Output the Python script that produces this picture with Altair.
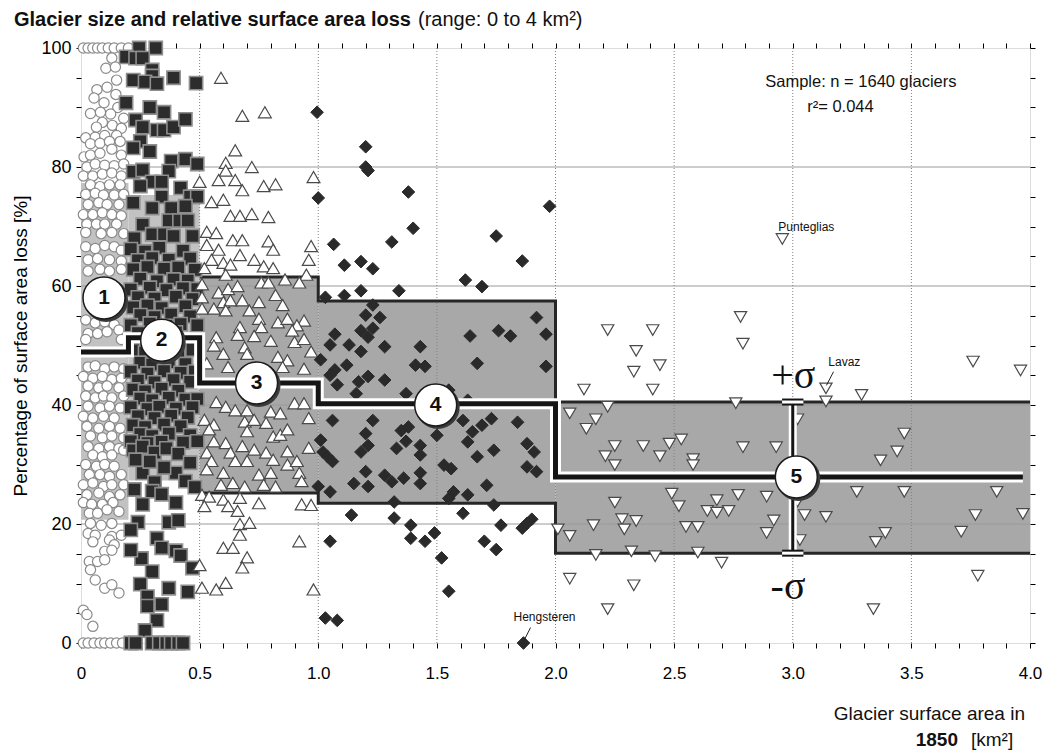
import json
import altair as alt
import pandas as pd

# ---------------- data ----------------
# size class 1 (circles)
circles_xy = [
    (0.01,100),(0.03,100),(0.05,100),(0.07,100),(0.09,100),(0.115,100),(0.14,100),(0.17,100),(0.2,100),
    (0.13,98.3),(0.105,96.6),(0.145,96.8),(0.15,94.6),(0.067,93.0),(0.11,93.4),(0.147,92.2),(0.055,91.6),
    (0.097,90.8),(0.155,90.0),(0.04,89.0),(0.082,89.2),(0.125,88.9),(0.18,88.2),(0.09,87.5),(0.065,86.7),
    (0.132,87.0),(0.17,86.5),(0.02,84.9),(0.06,85.0),(0.1,85.3),(0.15,85.3),(0.04,83.9),(0.08,84.0),
    (0.12,84.3),(0.165,84.3),(0.013,81.7),(0.04,82.0),(0.08,82.3),(0.13,83.0),(0.17,82.0),(0.025,80.0),
    (0.06,80.5),(0.1,80.3),(0.14,80.2),(0.18,80.5),(0.01,78.5),(0.05,78.5),(0.09,78.8),(0.13,79.0),
    (0.17,78.5),(0.04,77.0),(0.08,76.7),(0.12,77.0),(0.165,77.0),(0.02,75.4),(0.06,75.6),(0.095,75.3),
    (0.14,75.3),(0.18,75.4),(0.03,73.7),(0.075,74.0),(0.11,73.7),(0.16,73.7),(0.01,72.0),(0.05,72.0),
    (0.09,72.3),(0.13,72.0),(0.17,71.8),(0.025,70.4),(0.065,70.4),(0.1,70.4),(0.15,70.4),(0.02,69.0),
    (0.085,68.8),(0.13,69.0),(0.18,68.8),(0.02,66.6),(0.06,66.3),(0.1,66.8),(0.14,66.6),(0.17,66.0),
    (0.03,64.4),(0.07,64.6),(0.12,64.4),(0.17,64.2),(0.03,62.5),(0.08,62.8),(0.12,62.5),(0.17,62.8),
    (0.16,59.5),(0.17,56.5),(0.02,54.3),(0.06,53.8),(0.1,54.0),(0.14,53.5),(0.03,52.0),(0.07,52.0),
    (0.11,52.3),(0.16,52.6),(0.02,51.0),(0.17,51.0),(0.03,46.4),(0.06,46.6),(0.1,46.1),(0.14,46.4),
    (0.18,46.1),(0.01,44.8),(0.05,44.5),(0.09,44.8),(0.13,44.3),(0.17,44.5),(0.03,43.2),(0.075,42.9),
    (0.11,43.2),(0.16,42.9),(0.02,41.5),(0.06,41.2),(0.095,41.5),(0.13,41.2),(0.18,41.5),(0.03,39.8),
    (0.08,39.5),(0.12,39.8),(0.165,39.5),(0.01,38.1),(0.05,37.8),(0.095,38.1),(0.14,37.8),(0.025,36.4),
    (0.075,36.1),(0.12,36.4),(0.165,36.1),(0.04,34.8),(0.09,34.5),(0.13,34.8),(0.18,34.5),(0.03,33.0),
    (0.075,32.7),(0.12,33.0),(0.16,32.7),(0.05,31.6),(0.09,31.3),(0.13,31.6),(0.18,32.4),(0.02,30.0),
    (0.065,29.7),(0.1,30.0),(0.14,29.7),(0.035,28.3),(0.08,28.3),(0.12,28.0),(0.17,28.3),(0.01,26.6),
    (0.05,26.9),(0.095,26.3),(0.13,26.6),(0.18,26.6),(0.025,24.9),(0.075,25.2),(0.12,24.6),(0.165,24.9),
    (0.01,23.6),(0.045,23.3),(0.09,23.3),(0.135,23.6),(0.035,21.8),(0.07,21.8),(0.11,22.4),(0.16,22.1),
    (0.04,20.1),(0.085,19.8),(0.13,20.1),(0.03,18.4),(0.06,18.1),(0.13,17.9),(0.17,18.1),(0.05,17.0),
    (0.12,17.3),(0.14,16.5),(0.1,15.4),(0.13,15.6),(0.035,13.7),(0.07,13.7),(0.1,14.0),(0.04,12.3),
    (0.06,10.6),(0.1,9.2),(0.13,9.8),(0.16,8.4),(0.01,5.5),(0.025,4.8),(0.05,2.8),
    (0.01,0),(0.03,0),(0.055,0),(0.08,0),(0.1,0),(0.125,0),(0.15,0),(0.175,0),
]

# size class 2 (filled squares)
squares_xy = [
    (0.245,100),(0.315,100),(0.19,98.5),(0.23,98.3),(0.26,98.3),(0.3,96.3),(0.3,95.3),(0.39,95.0),
    (0.485,94.1),(0.22,94.6),(0.27,94.3),(0.32,94.0),(0.19,90.8),(0.29,90.0),(0.35,89.2),(0.23,87.9),
    (0.26,86.7),(0.32,86.2),(0.35,86.2),(0.39,86.7),(0.44,88.0),(0.25,84.3),(0.29,82.6),(0.22,83.2),
    (0.38,81.0),(0.44,81.3),(0.49,80.5),(0.22,79.2),(0.26,79.5),(0.37,79.3),(0.3,77.5),(0.34,77.5),
    (0.42,76.5),(0.25,76.8),(0.46,75.0),(0.49,75.0),(0.34,75.0),(0.3,73.1),(0.38,73.1),(0.44,73.4),
    (0.22,74.0),(0.37,71.0),(0.415,71.0),(0.45,71.0),(0.26,70.3),(0.3,68.7),(0.35,68.7),(0.39,68.4),
    (0.47,68.4),(0.225,68.0),
    (0.21,66.2),(0.27,65.8),(0.33,66.4),(0.43,65.9),(0.24,64.3),(0.3,64.7),(0.37,64.4),(0.46,64.6),
    (0.22,62.8),(0.28,63.2),(0.35,62.9),(0.41,63.1),(0.48,62.7),(0.25,61.2),(0.32,60.8),(0.39,61.1),
    (0.45,60.9),(0.21,59.4),(0.29,59.7),(0.36,59.3),(0.43,59.6),(0.49,59.5),(0.24,58.1),(0.31,57.9),
    (0.4,58.2),(0.47,57.8),(0.22,56.4),(0.28,56.7),(0.34,56.3),(0.44,56.6),(0.25,55.1),(0.31,54.8),
    (0.38,55.2),(0.46,54.9),(0.21,53.4),(0.29,53.7),(0.36,53.3),(0.42,53.6),(0.49,53.4),(0.24,52.1),
    (0.32,51.8),(0.4,52.2),(0.22,49.2),(0.27,48.8),(0.33,49.1),(0.41,48.9),(0.47,49.3),(0.25,47.1),
    (0.3,46.8),(0.37,47.2),(0.44,46.9),(0.21,45.6),(0.28,45.3),(0.35,45.7),(0.42,45.4),(0.48,45.6),
    (0.24,44.1),(0.31,43.8),(0.39,44.2),(0.46,43.9),(0.22,42.6),(0.27,42.3),(0.34,42.7),(0.41,42.4),
    (0.25,41.1),(0.3,40.8),(0.37,41.2),(0.44,40.9),(0.49,41.0),(0.21,39.6),(0.28,39.3),(0.33,39.7),
    (0.4,39.4),(0.47,39.6),(0.24,38.1),(0.31,37.8),(0.38,38.2),(0.45,37.9),(0.22,36.6),(0.27,36.3),
    (0.35,36.7),(0.42,36.4),(0.25,35.1),(0.3,34.8),(0.37,35.2),(0.46,34.9),(0.21,33.9),(0.28,33.6),
    (0.34,33.8),(0.43,33.7),(0.49,33.9),
    (0.22,32.4),(0.26,33.0),(0.31,32.0),(0.36,32.7),(0.41,31.8),(0.46,30.3),(0.4,28.6),(0.26,28.6),
    (0.29,30.5),(0.35,29.5),(0.23,30.8),(0.44,27.2),(0.31,27.0),(0.48,26.2),(0.3,25.5),(0.225,25.8),
    (0.26,23.3),(0.34,25.0),(0.4,23.6),(0.37,20.3),(0.41,20.6),(0.24,20.3),(0.21,19.0),(0.32,17.6),
    (0.34,16.0),(0.4,15.5),(0.42,14.7),(0.255,14.2),(0.21,15.6),(0.3,12.0),(0.47,12.6),(0.25,9.9),
    (0.37,9.2),(0.45,8.6),(0.28,7.8),(0.28,6.2),(0.34,6.5),(0.32,3.8),(0.27,2.1),
    (0.21,0),(0.23,0),(0.3,0),(0.33,0),(0.36,0),(0.38,0),(0.41,0),(0.43,0),
]

# size class 3 (open triangles)
tri_up_xy = [
    (0.59,95.0),(0.68,88.6),(0.775,89.2),(0.65,82.8),(0.61,80.7),(0.61,79.4),(0.72,80.0),(0.5,77.5),
    (0.58,77.8),(0.65,77.8),(0.68,76.1),(0.77,76.8),(0.82,77.1),(0.98,78.3),(0.55,74.1),(0.6,74.5),
    (0.63,71.8),(0.67,71.8),(0.72,72.1),(0.79,71.6),(0.53,69.1),(0.57,68.9),(0.64,67.7),(0.68,67.7),
    (0.79,67.5),(0.53,66.9),(0.58,66.1),(0.81,66.1),(0.97,66.7),(0.55,64.4),(0.6,63.9),(0.63,63.6),
    (0.67,65.2),(0.73,64.4),(0.77,63.3),(0.81,63.0),(0.96,64.4),(0.52,63.0),(0.61,61.9),(0.95,61.9),
    (0.51,60.3),(0.58,58.9),(0.62,59.5),(0.66,60.0),(0.76,60.6),(0.79,60.6),(0.86,61.1),(0.92,60.6),
    (0.51,58.1),(0.6,57.3),(0.63,57.6),(0.68,57.6),(0.75,57.3),(0.82,58.5),(0.85,56.8),(0.51,56.2),
    (0.56,56.2),(0.61,55.9),(0.71,55.9),(0.75,54.5),(0.83,53.9),(0.87,54.5),(0.94,54.2),(0.67,53.1),
    (0.76,53.1),(0.91,53.4),(0.89,52.5),(0.57,51.4),(0.69,49.7),(0.8,50.8),(0.9,50.6),(0.94,51.1),
    (0.6,48.6),(0.7,48.6),(0.83,48.1),(0.87,47.5),(0.62,46.4),(0.85,46.4),(0.94,46.1),(0.56,50.0),
    (0.53,47.0),(0.66,51.8),(0.73,51.6),(0.97,49.0),
    (0.57,40.5),(0.61,39.7),(0.65,39.1),(0.7,39.1),(0.8,38.9),(0.84,38.6),(0.9,40.3),(0.94,40.3),
    (0.52,37.5),(0.56,36.7),(0.69,37.2),(0.73,37.5),(0.78,37.0),(0.96,37.8),(0.54,35.9),(0.7,35.6),
    (0.81,34.7),(0.84,35.0),(0.87,35.9),(0.56,33.9),(0.61,33.6),(0.68,33.1),(0.73,32.5),(0.78,32.0),
    (0.87,32.2),(0.96,32.8),(0.53,32.0),(0.63,32.0),(0.55,30.6),(0.65,30.6),(0.7,30.6),(0.81,30.8),
    (0.87,30.0),(0.91,30.6),(0.53,29.2),(0.6,28.6),(0.75,28.3),(0.8,28.6),(0.92,28.6),(0.59,26.6),
    (0.64,26.9),(0.69,26.3),(0.77,26.6),(0.82,26.3),(0.93,27.2),
    (0.51,24.9),(0.54,24.6),(0.6,24.1),(0.67,24.4),(0.62,23.0),(0.52,23.0),(0.66,22.2),(0.75,23.5),
    (0.93,23.3),(0.97,23.2),(0.67,20.0),(0.71,20.2),(0.67,18.2),(0.92,17.1),(0.6,16.0),(0.64,16.0),
    (0.7,14.4),(0.68,12.7),(0.51,9.3),(0.57,9.0),(0.61,10.1),(0.98,9.0),(0.5,13.1),
]

# size class 4 (filled diamonds)
diamonds_xy = [
    (0.995,89.2),(1.2,83.4),(1.2,80.0),(1.21,79.4),(1.38,75.8),(1.0,74.8),(1.975,73.4),(1.4,69.7),
    (1.75,68.4),(1.065,67.0),(1.31,67.4),(1.86,64.2),(1.11,63.5),(1.18,64.1),(1.23,62.9),(1.62,61.0),
    (1.69,59.9),(1.18,59.2),(1.34,59.2),(1.11,58.4),(1.03,58.1),(1.23,56.8),(1.2,55.1),(1.26,54.7),
    (1.92,54.7),(1.23,52.9),(1.64,51.6),(1.76,52.5),(1.81,51.6),(1.96,51.9),(1.07,51.9),(1.18,52.5),
    (1.21,51.4),(1.28,49.8),(1.43,49.8),(1.05,50.1),(1.13,50.1),(1.18,49.0),(1.01,47.6),(1.12,46.7),
    (1.07,45.9),(1.05,45.0),(1.28,44.2),(1.17,43.9),(1.21,44.8),(1.08,43.4),(1.41,46.7),(1.45,46.5),
    (1.67,47.0),(1.96,46.5),(1.37,41.9),(1.16,41.9),(1.55,42.5),(1.63,40.8),
    (1.06,37.4),(1.23,37.4),(1.2,35.2),(1.35,35.7),(1.38,36.3),(1.5,34.9),(1.61,37.4),(1.65,35.5),
    (1.69,36.6),(1.73,37.7),(1.84,37.1),(1.63,33.8),(1.01,34.1),(1.37,33.9),(1.18,32.1),(1.21,33.2),
    (1.33,32.7),(1.43,33.2),(1.74,32.4),(1.88,33.5),(1.91,32.1),(1.02,32.1),(1.04,31.3),(1.06,30.5),
    (1.43,31.6),(1.53,29.9),(1.56,29.3),(1.67,31.3),(1.88,29.6),(1.92,28.8),(1.2,28.8),(1.28,28.2),
    (1.31,27.1),(1.36,27.7),(1.15,26.8),(1.21,26.3),(1.43,28.6),(1.43,26.8),(1.0,26.3),(1.05,25.4),
    (1.57,25.4),(1.63,24.9),(1.71,26.5),(1.55,24.3),(1.32,23.7),(1.74,23.2),
    (1.14,21.5),(1.32,21.0),(1.61,21.8),(1.39,19.8),(1.77,19.8),(1.86,19.3),(1.88,20.1),(1.9,20.8),
    (1.39,17.6),(1.45,17.1),(1.49,18.5),(1.05,17.1),(1.7,17.1),(1.75,15.7),(1.52,14.3),(1.55,8.7),
    (1.03,4.2),(1.08,3.8),(1.865,0),
]

# size class 5 (open inverted triangles)
tri_down_xy = [
    (2.956,67.9),(2.78,54.8),(2.79,50.3),(2.22,52.6),(2.41,52.6),(2.34,49.1),(2.44,46.7),(2.33,45.6),
    (2.12,42.6),(2.41,42.6),(3.14,42.8),(3.29,41.7),(3.76,47.3),(3.96,45.8),(2.22,39.7),(2.76,40.3),
    (3.14,40.6),(2.06,38.6),(2.17,37.6),(2.13,36.0),(2.25,33.1),(2.37,33.1),(2.21,31.4),(2.25,29.9),
    (2.44,31.4),(2.48,33.5),(2.53,34.2),(2.58,30.9),(2.58,29.9),(2.79,32.9),(2.93,32.9),(3.02,37.6),
    (3.47,35.2),(3.44,32.2),(3.37,30.7),(2.49,25.1),(2.25,23.6),(2.52,23.0),(2.68,24.0),(2.64,22.2),
    (2.68,21.9),(2.73,22.2),(2.77,24.9),(2.89,24.6),(3.02,23.8),(3.27,25.4),(3.47,25.4),(3.86,25.4),
    (2.28,20.8),(2.34,20.5),(2.29,19.1),(2.16,19.8),(2.01,19.1),(2.06,18.0),(2.55,19.5),(2.6,19.5),
    (2.92,20.6),(2.89,18.5),(3.05,21.5),(3.14,21.2),(3.03,17.3),(3.35,17.0),(3.39,18.5),(3.71,18.7),
    (3.77,21.5),(3.97,21.7),(2.17,14.8),(2.32,15.4),(2.42,14.6),(2.6,15.2),(2.7,13.5),(2.06,10.8),
    (2.33,9.7),(2.22,5.7),(3.34,5.7),(3.78,11.3),
]

# class statistics (mean and +/- one standard deviation)
class_id = [1, 2, 3, 4, 5]
class_x_start = [0.0, 0.2, 0.5, 1.0, 2.0]
class_x_end = [0.2, 0.5, 1.0, 2.0, 4.0]
class_mean = [48.9, 51.3, 43.7, 40.2, 27.9]
class_sd_low = [20.7, 27.3, 25.2, 23.5, 15.1]
class_sd_high = [77.3, 75.3, 61.5, 57.5, 40.5]
label_x = [0.097, 0.34, 0.74, 1.495, 3.015]
label_y = [58.0, 50.9, 43.7, 40.0, 27.9]
mean_line_end = 3.97

# axes
x_tick_values = [0, 0.5, 1.0, 1.5, 2.0, 2.5, 3.0, 3.5, 4.0]
x_tick_labels = ["0", "0.5", "1.0", "1.5", "2.0", "2.5", "3.0", "3.5", "4.0"]
x_minor = [round(i * 0.1, 1) for i in range(41)]
y_tick_labels = ["0", "20", "40", "60", "80", "100"]
y_minor = list(range(0, 101, 5))
grid_x = [0.5, 1.0, 1.5, 2.0, 2.5, 3.0, 3.5]
grid_y = [20, 40, 60, 80]

# annotations
named_glaciers = ["Punteglias", "Lavaz", "Hengsteren"]
named_x = [2.939, 3.15, 1.823]
named_y = [69.9, 47.2, 4.4]

FONT = "Liberation Sans"
W, H = 949, 595

xs = alt.Scale(domain=[0, 4], nice=False, zero=False)
ys = alt.Scale(domain=[0, 100], nice=False, zero=False)


def X(f):
    return alt.X(f, type="quantitative", scale=xs, axis=None)


def Y(f):
    return alt.Y(f, type="quantitative", scale=ys, axis=None)


def pts(xy):
    return pd.DataFrame({"x": [p[0] for p in xy], "y": [p[1] for p in xy]})


classes = pd.DataFrame({
    "cls": class_id, "x0": class_x_start, "x1": class_x_end,
    "mean": class_mean, "lo": class_sd_low, "hi": class_sd_high,
    "lx": label_x, "ly": label_y,
})

x_label_expr = (
    "abs(datum.value*2 - round(datum.value*2)) < 0.01 ? "
    + json.dumps(x_tick_labels) + "[round(datum.value*2)] : ''"
)
y_label_expr = "datum.value % 20 == 0 ? " + json.dumps(y_tick_labels) + "[datum.value/20] : ''"

bottom_axis = alt.Axis(orient="bottom", values=x_minor, labelExpr=x_label_expr, tickSize=5,
                       tickColor="black", tickWidth=1, domain=False, grid=False, title=None,
                       labelFontSize=17, labelFont=FONT, labelColor="black", labelPadding=17,
                       labelFlush=False, labelOverlap=False)
left_axis = alt.Axis(orient="left", values=y_minor, labelExpr=y_label_expr, tickSize=5,
                     tickColor="black", tickWidth=1, domain=False, grid=False,
                     title="Percentage of surface area loss [%]", titleFontSize=19,
                     titleFont=FONT, titleFontWeight="normal", titleColor="black", titlePadding=10,
                     labelFontSize=18, labelFont=FONT, labelColor="black", labelPadding=5,
                     labelFlush=False, labelOverlap=False)
top_axis = alt.Axis(orient="top", values=x_minor, labels=False, tickSize=5, tickColor="black",
                    domain=False, grid=False, title=None)
right_axis = alt.Axis(orient="right", values=y_minor, labels=False, tickSize=5, tickColor="black",
                      domain=False, grid=False, title=None)

# sigma bands
bands = alt.Chart(classes).mark_rect(strokeWidth=0).encode(
    x=alt.X("x0:Q", scale=xs, axis=bottom_axis),
    x2="x1:Q",
    y=alt.Y("lo:Q", scale=ys, axis=left_axis),
    y2="hi:Q",
    color=alt.condition("datum.cls <= 2", alt.value("#c2c2c2"), alt.value("#a8a8a8")),
)

vgrid = alt.Chart(pd.DataFrame({"gx": grid_x})).mark_rule(
    color="#808080", strokeDash=[1, 2], strokeWidth=1
).encode(x=alt.X("gx:Q", scale=xs, axis=top_axis))

hgrid = alt.Chart(pd.DataFrame({"gy": grid_y})).mark_rule(
    color="#9a9a9a", strokeWidth=1
).encode(y=alt.Y("gy:Q", scale=ys, axis=right_axis))

# band outlines (classes 3-5)
top_outline = pd.DataFrame({"x": class_x_start[2:] + [class_x_end[-1]],
                            "y": class_sd_high[2:] + [class_sd_high[-1]]})
bot_outline = pd.DataFrame({"x": class_x_start[2:] + [class_x_end[-1]],
                            "y": class_sd_low[2:] + [class_sd_low[-1]]})
outline_top = alt.Chart(top_outline).mark_line(color="#262626", strokeWidth=3,
                                                interpolate="step-after").encode(x=X("x"), y=Y("y"))
outline_bot = alt.Chart(bot_outline).mark_line(color="#262626", strokeWidth=3,
                                                interpolate="step-after").encode(x=X("x"), y=Y("y"))

common_pt = dict(opacity=1, fillOpacity=1, strokeOpacity=1, filled=True)
c_layer = alt.Chart(pts(circles_xy)).mark_point(
    shape="circle", size=105, fill="white", stroke="#8a8a8a", strokeWidth=1.2, clip=False, **common_pt
).encode(x=X("x"), y=Y("y"))
s_layer = alt.Chart(pts(squares_xy)).mark_point(
    shape="square", size=175, fill="#2c2c2c", stroke="#8e8e8e", strokeWidth=1.6, clip=False, **common_pt
).encode(x=X("x"), y=Y("y"))
tu_layer = alt.Chart(pts(tri_up_xy)).mark_point(
    shape="triangle-up", size=165, fill="white", stroke="#4a4a4a", strokeWidth=1.2, clip=False, **common_pt
).encode(x=X("x"), y=Y("y"))
d_layer = alt.Chart(pts(diamonds_xy)).mark_point(
    shape="diamond", size=160, fill="#2a2a2a", stroke="#2a2a2a", strokeWidth=1, clip=False, **common_pt
).encode(x=X("x"), y=Y("y"))
td_layer = alt.Chart(pts(tri_down_xy)).mark_point(
    shape="triangle-down", size=150, fill="white", stroke="#4a4a4a", strokeWidth=1.2, clip=False, **common_pt
).encode(x=X("x"), y=Y("y"))

# mean step line with white halo
mean_df = pd.DataFrame({"x": class_x_start + [mean_line_end], "y": class_mean + [class_mean[-1]]})
mean_halo = alt.Chart(mean_df).mark_line(color="white", strokeWidth=11, interpolate="step-after",
                                         strokeJoin="miter").encode(x=X("x"), y=Y("y"))
mean_line = alt.Chart(mean_df).mark_line(color="#151515", strokeWidth=5, interpolate="step-after",
                                         strokeJoin="miter").encode(x=X("x"), y=Y("y"))

# sigma error bar at class 5
eb = pd.DataFrame({"x": [3.0], "lo": [class_sd_low[4]], "hi": [class_sd_high[4]]})
caps = pd.DataFrame({"xa": [2.955, 2.955], "xb": [3.045, 3.045], "y": [class_sd_low[4], class_sd_high[4]]})
eb_halo = alt.Chart(eb).mark_rule(color="white", strokeWidth=8).encode(x=X("x"), y=Y("lo"), y2="hi")
eb_line = alt.Chart(eb).mark_rule(color="#151515", strokeWidth=3).encode(x=X("x"), y=Y("lo"), y2="hi")
cap_halo = alt.Chart(caps).mark_rule(color="#151515", strokeWidth=7).encode(x=X("xa"), x2="xb", y=Y("y"))
cap_line = alt.Chart(caps).mark_rule(color="white", strokeWidth=3).encode(x=X("xa"), x2="xb", y=Y("y"))

# numbered class circles
num_shadow = alt.Chart(classes).mark_point(
    shape="circle", size=1764, fill="#3a3a3a", stroke="#3a3a3a", xOffset=2, yOffset=2, clip=False, **common_pt
).encode(x=X("lx"), y=Y("ly"))
num_circle = alt.Chart(classes).mark_point(
    shape="circle", size=1764, fill="white", stroke="#1a1a1a", strokeWidth=1.5, clip=False, **common_pt
).encode(x=X("lx"), y=Y("ly"))
num_text = alt.Chart(classes).mark_text(
    font=FONT, fontSize=21, fontWeight="bold", color="#111", baseline="middle", align="center"
).encode(x=X("lx"), y=Y("ly"), text="cls:N")

# annotations inside the plot
ann = pd.DataFrame({"t": ["Sample: n = 1640 glaciers", "r\u00b2= 0.044"],
                    "x": [2.884, 3.061], "y": [94.3, 90.1]})
ann_text = alt.Chart(ann).mark_text(font=FONT, fontSize=16.5, align="left", baseline="middle",
                                    color="#111").encode(x=X("x"), y=Y("y"), text="t:N")
names = pd.DataFrame({"t": named_glaciers, "x": named_x, "y": named_y})
names_text = alt.Chart(names).mark_text(font=FONT, fontSize=12, align="left", baseline="middle",
                                        color="#111").encode(x=X("x"), y=Y("y"), text="t:N")
pointers = pd.DataFrame({"xa": [3.172, 1.895], "xb": [3.142, 1.867], "ya": [45.6, 2.6], "yb": [43.3, 0.4]})
pointer_lines = alt.Chart(pointers).mark_rule(color="#222", strokeWidth=1).encode(
    x=X("xa"), x2="xb", y=Y("ya"), y2="yb")

sig = pd.DataFrame({"t": ["+\u03c3", "-\u03c3"], "x": [3.002, 2.98], "y": [44.9, 9.4]})
sig_text = alt.Chart(sig).mark_text(font="Liberation Serif", fontSize=40, align="center",
                                    baseline="middle", color="#111").encode(x=X("x"), y=Y("y"), text="t:N")

# title and x-axis caption (placed in pixels around the plot)
title_df = pd.DataFrame({"t": ["Glacier size and relative surface area loss"]})
title_bold = alt.Chart(title_df).mark_text(font=FONT, fontSize=20, fontWeight="bold", align="left",
                                           baseline="alphabetic", color="#111").encode(
    x=alt.value(-67), y=alt.value(-22), text="t:N")
sub_df = pd.DataFrame({"t": ["(range: 0 to 4 km\u00b2)"]})
title_reg = alt.Chart(sub_df).mark_text(font=FONT, fontSize=20, align="left",
                                        baseline="alphabetic", color="#111").encode(
    x=alt.value(337), y=alt.value(-22), text="t:N")
xcap1 = alt.Chart(pd.DataFrame({"t": ["Glacier surface area in"]})).mark_text(
    font=FONT, fontSize=19, align="right", baseline="middle", color="#111").encode(
    x=alt.value(944), y=alt.value(666), text="t:N")
xcap2 = alt.Chart(pd.DataFrame({"t": ["1850"]})).mark_text(
    font=FONT, fontSize=19, fontWeight="bold", align="right", baseline="middle", color="#111").encode(
    x=alt.value(877), y=alt.value(692), text="t:N")
xcap3 = alt.Chart(pd.DataFrame({"t": ["[km\u00b2]"]})).mark_text(
    font=FONT, fontSize=19, align="left", baseline="middle", color="#111").encode(
    x=alt.value(890), y=alt.value(692), text="t:N")

chart = alt.layer(
    bands, hgrid, vgrid, outline_top, outline_bot,
    c_layer, s_layer, tu_layer, d_layer, td_layer,
    mean_halo, mean_line, eb_halo, eb_line, cap_halo, cap_line,
    num_shadow, num_circle, num_text,
    ann_text, names_text, pointer_lines, sig_text,
    title_bold, title_reg, xcap1, xcap2, xcap3,
).resolve_axis(x="independent", y="independent").properties(
    width=W, height=H,
    autosize=alt.AutoSizeParams(type="none"),
    padding={"left": 73, "top": 40, "right": 20, "bottom": 110},
    background="white",
).configure_view(stroke="black", strokeWidth=2).configure(font=FONT)

chart.save("out.html", embed_options={"renderer": "svg", "actions": False})
